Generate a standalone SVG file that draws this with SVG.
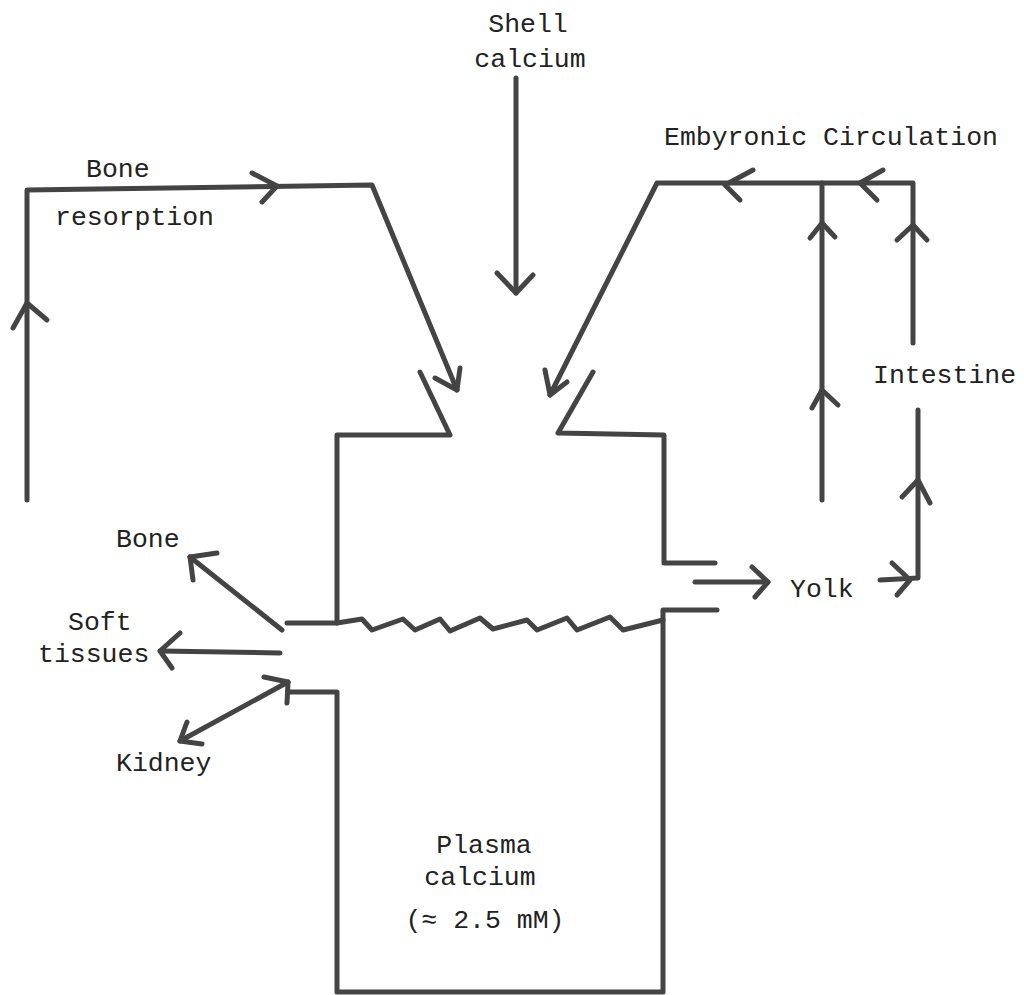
<svg xmlns="http://www.w3.org/2000/svg" width="1024" height="995" viewBox="0 0 1024 995">
<style>
.ln{fill:none;stroke:#444;stroke-width:5;stroke-linecap:round;stroke-linejoin:round}
.hd{fill:none;stroke:#444;stroke-width:5;stroke-linecap:round;stroke-linejoin:round}
.t{font-family:"Liberation Mono","DejaVu Sans Mono",monospace;font-size:26.5px;fill:#222}
</style>
<rect width="1024" height="995" fill="#fff"/>
<g id="plasma-calcium">
<path class="ln" d="M420,372 L450,435 L337,435 L337,623"/>
<path class="ln" d="M593,372 L558,433 L664,435 L664,563 L715,563"/>
<path class="ln" d="M290,692 L337,692 L337,992 L663,992 L663,610 L717,610"/>
<path class="ln" d="M287,623 L337,623 L362,619 L372,630 L403,619 L415,630 L440,619 L450,631 L480,618 L493,629 L527,620 L537,630 L567,618 L577,630 L610,617 L623,630 L663,620"/>
<text class="t" x="484" y="853" text-anchor="middle">Plasma</text>
<text class="t" x="480" y="885" text-anchor="middle">calcium</text>
<text class="t" x="485" y="928" text-anchor="middle">(≈ 2.5 mM)</text>
</g>
<g id="shell-calcium"><text class="t" x="528" y="32" text-anchor="middle">Shell</text><text class="t" x="530" y="67" text-anchor="middle">calcium</text></g>
<g id="bone-resorption"><text class="t" x="86" y="177">Bone</text><text class="t" x="55" y="225">resorption</text></g>
<g id="embryonic-circulation"><text class="t" x="664" y="145">Embyronic Circulation</text></g>
<g id="intestine"><text class="t" x="873" y="383">Intestine</text></g>
<g id="yolk"><text class="t" x="790" y="597">Yolk</text></g>
<g id="bone"><text class="t" x="116" y="547">Bone</text></g>
<g id="soft-tissues"><text class="t" x="68" y="630">Soft</text><text class="t" x="38" y="662">tissues</text></g>
<g id="kidney"><text class="t" x="116" y="771">Kidney</text></g>
<g id="connectors">
<path class="ln" d="M516,78 L516,293"/><path class="hd" d="M497,273 L516,293 L533,275"/>
<path class="ln" d="M27,500 L27,190 L372,185 L457,390"/>
<path class="hd" d="M13,328 L27,303 L47,320"/>
<path class="hd" d="M252,173 L277,186 L262,202"/>
<path class="hd" d="M435,378 L457,390 L460,368"/>
<path class="ln" d="M913,343 L913,183 L657,183 L550,395"/>
<path class="hd" d="M545,370 L550,395 L567,382"/>
<path class="hd" d="M753,170 L725,185 L740,200"/>
<path class="hd" d="M883,170 L860,183 L877,200"/>
<path class="hd" d="M897,240 L913,225 L927,240"/>
<path class="ln" d="M822,500 L822,183"/>
<path class="hd" d="M810,238 L822,223 L835,237"/>
<path class="hd" d="M812,408 L822,390 L838,405"/>
<path class="ln" d="M880,580 L918,578 L918,410"/>
<path class="hd" d="M902,497 L918,480 L930,503"/>
<path class="hd" d="M892,563 L910,580 L897,595"/>
<path class="ln" d="M695,582 L768,582"/><path class="hd" d="M752,567 L768,582 L755,597"/>
<path class="ln" d="M282,630 L190,557"/><path class="hd" d="M217,553 L190,557 L193,580"/>
<path class="ln" d="M280,653 L160,651"/><path class="hd" d="M180,633 L160,651 L172,668"/>
<path class="ln" d="M180,741 L288,682"/><path class="hd" d="M187,722 L180,741 L202,744"/><path class="hd" d="M264,677 L288,682 L287,703"/>
</g>
</svg>
